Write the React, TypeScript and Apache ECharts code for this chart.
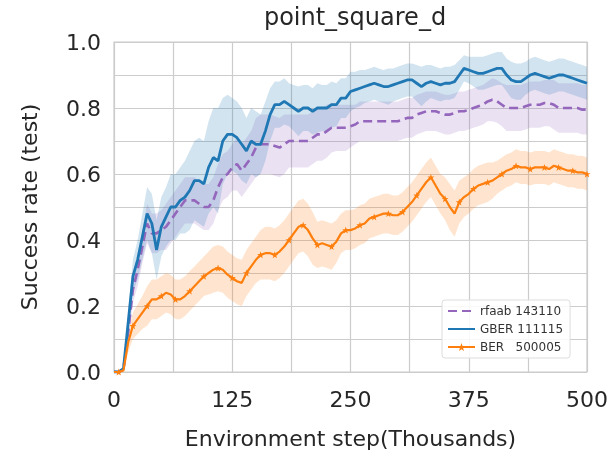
import React, { useEffect, useRef } from "react";
import * as echarts from "echarts";

const STEPS = [
  0, 5, 10, 15, 20, 25, 30, 35, 40, 45,
  50, 55, 60, 65, 70, 75, 80, 85, 90, 95,
  100, 105, 110, 115, 120, 125, 130, 135, 140, 145,
  150, 155, 160, 165, 170, 175, 180, 185, 190, 195,
  200, 205, 210, 215, 220, 225, 230, 235, 240, 245,
  250, 255, 260, 265, 270, 275, 280, 285, 290, 295,
  300, 305, 310, 315, 320, 325, 330, 335, 340, 345,
  350, 355, 360, 365, 370, 375, 380, 385, 390, 395,
  400, 405, 410, 415, 420, 425, 430, 435, 440, 445,
  450, 455, 460, 465, 470, 475, 480, 485, 490, 495,
  500,
];

const GBER_MEAN = [
  0, 0, 0.01, 0.15, 0.29, 0.34, 0.41, 0.48, 0.45, 0.37,
  0.44, 0.47, 0.5, 0.5, 0.52, 0.53, 0.55, 0.58, 0.58, 0.57,
  0.62, 0.65, 0.64, 0.7, 0.72, 0.72, 0.71, 0.69, 0.67, 0.7,
  0.69, 0.69, 0.73, 0.78, 0.81, 0.81, 0.82, 0.81, 0.8, 0.79,
  0.8, 0.8, 0.79, 0.8, 0.8, 0.8, 0.81, 0.81, 0.83, 0.83,
  0.85, 0.855, 0.86, 0.865, 0.87, 0.875, 0.87, 0.865, 0.865, 0.87,
  0.875, 0.88, 0.885, 0.885, 0.875, 0.865, 0.875, 0.88, 0.875, 0.87,
  0.875, 0.875, 0.88, 0.9, 0.92, 0.915, 0.91, 0.905, 0.905, 0.91,
  0.915, 0.92, 0.92, 0.9, 0.885, 0.88, 0.88, 0.89, 0.9, 0.905,
  0.9, 0.895, 0.89, 0.895, 0.9, 0.9, 0.895, 0.89, 0.885, 0.88,
  0.875,
];
const GBER_SPREAD = [
  0, 0, 0.005, 0.03, 0.05, 0.06, 0.07, 0.08, 0.09, 0.09,
  0.09, 0.09, 0.1, 0.1, 0.1, 0.11, 0.12, 0.12, 0.13, 0.13,
  0.14, 0.15, 0.16, 0.13, 0.12, 0.11, 0.11, 0.11, 0.1, 0.1,
  0.1, 0.09, 0.09, 0.08, 0.07, 0.07, 0.07, 0.065, 0.07, 0.075,
  0.07, 0.07, 0.07, 0.075, 0.07, 0.07, 0.07, 0.065, 0.06, 0.06,
  0.06, 0.055, 0.055, 0.05, 0.05, 0.05, 0.05, 0.05, 0.055, 0.05,
  0.05, 0.05, 0.05, 0.05, 0.055, 0.06, 0.055, 0.05, 0.05, 0.05,
  0.05, 0.05, 0.05, 0.045, 0.04, 0.04, 0.045, 0.05, 0.05, 0.05,
  0.05, 0.05, 0.05, 0.05, 0.055, 0.055, 0.055, 0.05, 0.05, 0.05,
  0.05, 0.05, 0.05, 0.05, 0.05, 0.05, 0.05, 0.05, 0.05, 0.05,
  0.05,
];

const RFAAB_MEAN = [
  0, 0, 0.01, 0.12, 0.25, 0.31, 0.38, 0.45, 0.42, 0.42,
  0.43, 0.44, 0.46, 0.48, 0.5, 0.52, 0.52, 0.52, 0.51, 0.5,
  0.5, 0.52, 0.56, 0.59, 0.6, 0.62, 0.63, 0.61, 0.63, 0.65,
  0.68, 0.69, 0.69, 0.69, 0.685, 0.68, 0.69, 0.7, 0.7, 0.7,
  0.7, 0.7, 0.71, 0.72, 0.72, 0.73, 0.74, 0.74, 0.74, 0.74,
  0.745, 0.75, 0.76, 0.76, 0.76, 0.76, 0.76, 0.76, 0.76, 0.76,
  0.76, 0.765, 0.77, 0.77, 0.78, 0.785, 0.79, 0.79, 0.79, 0.785,
  0.78, 0.78, 0.785, 0.79, 0.79, 0.795, 0.8, 0.805, 0.81, 0.82,
  0.825, 0.82, 0.81, 0.8, 0.8, 0.8, 0.8, 0.805, 0.81, 0.81,
  0.81, 0.815, 0.815, 0.81, 0.8, 0.8, 0.8, 0.8, 0.8, 0.795,
  0.795,
];
const RFAAB_SPREAD = [
  0, 0, 0.005, 0.03, 0.04, 0.05, 0.05, 0.06, 0.06, 0.06,
  0.06, 0.07, 0.07, 0.07, 0.07, 0.07, 0.07, 0.07, 0.07, 0.07,
  0.07, 0.07, 0.07, 0.07, 0.07, 0.07, 0.08, 0.08, 0.08, 0.08,
  0.09, 0.09, 0.09, 0.09, 0.09, 0.09, 0.09, 0.08, 0.08, 0.08,
  0.08, 0.08, 0.08, 0.08, 0.08, 0.08, 0.075, 0.07, 0.07, 0.07,
  0.065, 0.06, 0.06, 0.06, 0.06, 0.06, 0.06, 0.06, 0.06, 0.06,
  0.06, 0.06, 0.06, 0.06, 0.06, 0.06, 0.06, 0.06, 0.06, 0.06,
  0.06, 0.06, 0.06, 0.06, 0.06, 0.06, 0.06, 0.06, 0.06, 0.06,
  0.065, 0.065, 0.065, 0.07, 0.07, 0.07, 0.07, 0.07, 0.07, 0.07,
  0.07, 0.07, 0.07, 0.075, 0.075, 0.075, 0.075, 0.075, 0.075, 0.075,
  0.075,
];

const BER_MEAN = [
  0, 0, 0.005, 0.09, 0.14, 0.16, 0.18, 0.2, 0.22, 0.22,
  0.23, 0.24, 0.235, 0.22, 0.22, 0.23, 0.245, 0.26, 0.275, 0.29,
  0.3, 0.31, 0.315, 0.31, 0.295, 0.285, 0.275, 0.27, 0.3, 0.32,
  0.34, 0.355, 0.36, 0.36, 0.355, 0.365, 0.38, 0.4, 0.42, 0.44,
  0.445, 0.43, 0.405, 0.385, 0.39, 0.385, 0.38, 0.395, 0.42, 0.43,
  0.43, 0.435, 0.445, 0.45, 0.465, 0.47, 0.475, 0.48, 0.48, 0.475,
  0.475, 0.485, 0.5, 0.515, 0.535, 0.555, 0.575, 0.59, 0.565, 0.54,
  0.525, 0.5, 0.48, 0.515, 0.53, 0.54, 0.555, 0.565, 0.57, 0.575,
  0.58, 0.59, 0.6, 0.61, 0.615, 0.625, 0.62, 0.62, 0.615, 0.62,
  0.62, 0.62, 0.615, 0.625, 0.62, 0.615, 0.61, 0.61, 0.605, 0.605,
  0.6,
];
const BER_SPREAD = [
  0, 0, 0.005, 0.03, 0.04, 0.045, 0.05, 0.06, 0.06, 0.06,
  0.06, 0.06, 0.06, 0.06, 0.06, 0.06, 0.06, 0.06, 0.06, 0.06,
  0.065, 0.07, 0.07, 0.07, 0.07, 0.07, 0.07, 0.07, 0.07, 0.07,
  0.07, 0.075, 0.08, 0.08, 0.08, 0.08, 0.08, 0.08, 0.08, 0.08,
  0.08, 0.08, 0.08, 0.07, 0.07, 0.07, 0.07, 0.065, 0.06, 0.06,
  0.06, 0.06, 0.06, 0.06, 0.06, 0.06, 0.06, 0.06, 0.06, 0.06,
  0.06, 0.06, 0.06, 0.06, 0.06, 0.06, 0.06, 0.06, 0.06, 0.06,
  0.065, 0.07, 0.07, 0.065, 0.06, 0.06, 0.06, 0.06, 0.06, 0.06,
  0.055, 0.05, 0.05, 0.05, 0.05, 0.05, 0.05, 0.05, 0.05, 0.05,
  0.05, 0.05, 0.05, 0.05, 0.05, 0.05, 0.05, 0.05, 0.05, 0.05,
  0.05,
];

const X_TICKS = [0, 125, 250, 375, 500];
const SERIES_NAMES = ["rfaab 143110", "GBER 111115", "BER   500005"];

const FONT = "DejaVu Sans";
const STAR =
  "path://M0,-10L2.4,-3.1L9.5,-3.1L3.8,1.2L5.9,8.1L0,4L-5.9,8.1L-3.8,1.2L-9.5,-3.1L-2.4,-3.1Z";

function band(mean: number[], spread: number[], color: string) {
  const lo = mean.map((m, i) => Math.max(0, m - spread[i]));
  const hi = mean.map((m, i) => m + spread[i]);
  return {
    type: "custom",
    silent: true,
    z: 1,
    clip: true,
    data: [[STEPS[0], lo[0]]],
    renderItem: (_params: any, api: any) => {
      const pts: number[][] = [];
      for (let i = 0; i < STEPS.length; i++) pts.push(api.coord([STEPS[i], hi[i]]));
      for (let i = STEPS.length - 1; i >= 0; i--) pts.push(api.coord([STEPS[i], lo[i]]));
      return {
        type: "polygon",
        shape: { points: pts },
        style: { fill: color, stroke: "none" },
      };
    },
  };
}

export default function App() {
  const ref = useRef<HTMLDivElement>(null);
  useEffect(() => {
    if (!ref.current) return;
    const chart = echarts.init(ref.current, undefined, { renderer: "svg" });
    const option = {
      animation: false,
      title: {
        text: "point_square_d",
        left: 350,
        top: 0,
        textAlign: "center",
        textStyle: { fontFamily: FONT, fontSize: 24, fontWeight: "normal", color: "#262626" },
      },
      grid: {
        left: 114,
        right: 29,
        top: 42,
        bottom: 88,
        show: true,
        borderColor: "#cccccc",
        borderWidth: 1.2,
      },
      legend: {
        data: [
          { name: SERIES_NAMES[0], itemStyle: { color: "rgba(0,0,0,0)", borderWidth: 0 } },
          { name: SERIES_NAMES[1], itemStyle: { color: "rgba(0,0,0,0)", borderWidth: 0 } },
          { name: SERIES_NAMES[2] },
        ],
        orient: "vertical",
        left: 442,
        top: 300,
        padding: [5, 7, 5, 5],
        itemWidth: 27,
        itemHeight: 10,
        itemGap: 6,
        backgroundColor: "rgba(255,255,255,0.85)",
        borderColor: "#dddddd",
        borderWidth: 1,
        borderRadius: 3,
        textStyle: { fontFamily: FONT, fontSize: 12, color: "#333" },
      },
      xAxis: {
        type: "value",
        min: 0,
        max: 500,
        interval: 62.5,
        name: "Environment step(Thousands)",
        nameLocation: "middle",
        nameGap: 55,
        nameTextStyle: { fontFamily: FONT, fontSize: 22, color: "#262626" },
        axisLine: { show: false },
        axisTick: { show: false },
        axisLabel: {
          margin: 16,
          fontFamily: FONT,
          fontSize: 22,
          color: "#262626",
          formatter: (v: number) => (X_TICKS.some((t) => Math.abs(t - v) < 1e-6) ? String(v) : ""),
        },
        splitLine: { show: true, lineStyle: { color: "#cccccc", width: 1.2 } },
      },
      yAxis: {
        type: "value",
        min: 0,
        max: 1,
        interval: 0.1,
        name: "Success rate (test)",
        nameLocation: "middle",
        nameGap: 74,
        nameTextStyle: { fontFamily: FONT, fontSize: 22, color: "#262626" },
        axisLine: { show: false },
        axisTick: { show: false },
        axisLabel: {
          margin: 13,
          fontFamily: FONT,
          fontSize: 22,
          color: "#262626",
          formatter: (v: number) => {
            const t = Math.round(v * 10);
            return t % 2 === 0 ? (t / 10).toFixed(1) : "";
          },
        },
        splitLine: { show: true, lineStyle: { color: "#cccccc", width: 1.2 } },
      },
      series: [
        band(RFAAB_MEAN, RFAAB_SPREAD, "rgba(148,103,189,0.2)"),
        band(GBER_MEAN, GBER_SPREAD, "rgba(31,119,180,0.2)"),
        band(BER_MEAN, BER_SPREAD, "rgba(255,127,14,0.2)"),
        {
          name: SERIES_NAMES[0],
          type: "line",
          data: STEPS.map((x, i) => [x, RFAAB_MEAN[i]]),
          symbol: "none",
          lineStyle: { color: "#9467bd", width: 2.6, type: [9, 5] },
          itemStyle: { color: "#9467bd" },
          z: 3,
        },
        {
          name: SERIES_NAMES[1],
          type: "line",
          data: STEPS.map((x, i) => [x, GBER_MEAN[i]]),
          symbol: "none",
          lineStyle: { color: "#1f77b4", width: 2.8 },
          itemStyle: { color: "#1f77b4" },
          z: 4,
        },
        {
          name: SERIES_NAMES[2],
          type: "line",
          data: STEPS.map((x, i) =>
            i % 3 === 1 ? { value: [x, BER_MEAN[i]] } : { value: [x, BER_MEAN[i]], symbol: "none" }
          ),
          symbol: STAR,
          symbolSize: 7,
          showAllSymbol: true,
          lineStyle: { color: "#ff7f0e", width: 2.2 },
          itemStyle: { color: "#ff7f0e" },
          z: 5,
        },
      ],
    };
    chart.setOption(option as any);
    return () => chart.dispose();
  }, []);
  return (
    <div
      ref={ref}
      style={{ position: "fixed", left: 0, top: 0, width: 616, height: 460 }}
    />
  );
}
